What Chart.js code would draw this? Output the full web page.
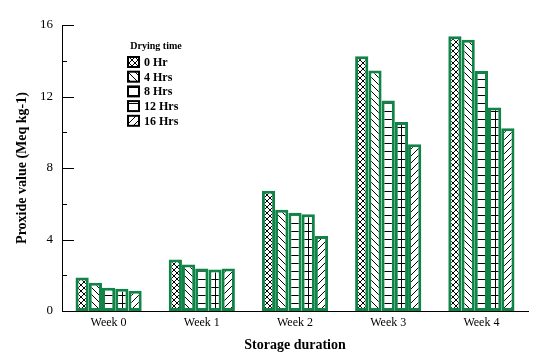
<!DOCTYPE html>
<html>
<head>
<meta charset="utf-8">
<script src="https://cdn.jsdelivr.net/npm/chart.js@4/dist/chart.umd.min.js"></script>
<style>
  body { margin: 0; background: #fff; }
  #wrap { width: 536px; height: 361px; }
</style>
</head>
<body>
<div id="wrap"><canvas id="chart" width="536" height="361"></canvas></div>
<script>
// chart data
const weeks = ['Week 0', 'Week 1', 'Week 2', 'Week 3', 'Week 4'];
const dryingTimes = ['0 Hr', '4 Hrs', '8 Hrs', '12 Hrs', '16 Hrs'];
const hr0 = [1.87, 2.88, 6.73, 14.25, 15.37];
const hr4 = [1.58, 2.6, 5.67, 13.45, 15.18];
const hr8 = [1.3, 2.38, 5.5, 11.78, 13.43];
const hr12 = [1.24, 2.32, 5.41, 10.57, 11.39];
const hr16 = [1.13, 2.38, 4.2, 9.33, 10.22];
const yTicks = [0, 4, 8, 12, 16];
const yMinor = [2, 6, 10, 14];

const SERIF = '"Liberation Serif", "Times New Roman", serif';
const GREEN = '#0f8446';

// hatch patterns
function makePattern(size, draw) {
  const c = document.createElement('canvas');
  c.width = size; c.height = size;
  const g = c.getContext('2d');
  g.fillStyle = '#fff';
  g.fillRect(0, 0, size, size);
  g.strokeStyle = '#000';
  g.fillStyle = '#000';
  g.lineWidth = 1;
  draw(g, size);
  return g.createPattern(c, 'repeat');
}

const patCross = makePattern(6, (g, s) => {
  g.beginPath();
  g.moveTo(0, 0); g.lineTo(s, s);
  g.moveTo(s, 0); g.lineTo(0, s);
  g.stroke();
  g.fillRect(s / 2 - 1, s / 2 - 1, 2, 2);
});
const patBack = makePattern(7, (g, s) => {
  g.beginPath();
  g.moveTo(-1, -1); g.lineTo(s + 1, s + 1);
  g.moveTo(-1, s - 1); g.lineTo(1, s + 1);
  g.moveTo(s - 1, -1); g.lineTo(s + 1, 1);
  g.stroke();
});
const patHoriz = makePattern(8, (g, s) => {
  g.fillRect(0, s - 1, s, 1);
});
const patFwd = makePattern(7, (g, s) => {
  g.beginPath();
  g.moveTo(-1, s + 1); g.lineTo(s + 1, -1);
  g.moveTo(-1, 1); g.lineTo(1, -1);
  g.moveTo(s - 1, s + 1); g.lineTo(s + 1, s - 1);
  g.stroke();
});

const fills = [patCross, patBack, patHoriz, patHoriz, patFwd];
const seriesValues = [hr0, hr4, hr8, hr12, hr16];

const datasets = dryingTimes.map((name, i) => ({
  label: name,
  data: seriesValues[i],
  backgroundColor: fills[i],
  borderColor: GREEN,
  borderWidth: 3,
  borderSkipped: false,
}));

// vertical centre line for the 12 Hrs bars + inward y ticks + legend
const extras = {
  id: 'extras',
  afterDatasetsDraw(chart) {
    const ctx = chart.ctx;
    ctx.save();
    ctx.strokeStyle = '#000';
    ctx.lineWidth = 1;
    chart.getDatasetMeta(3).data.forEach(bar => {
      const x = Math.round(bar.x) + 0.5;
      ctx.beginPath();
      ctx.moveTo(x, bar.y + 3);
      ctx.lineTo(x, bar.base - 3);
      ctx.stroke();
    });

    // inward ticks on the y axis
    const y = chart.scales.y;
    const left = chart.chartArea.left;
    ctx.lineWidth = 1;
    yTicks.concat(yMinor).forEach(v => {
      const py = Math.round(y.getPixelForValue(v)) + 0.5;
      const len = yTicks.includes(v) ? 12 : 5;
      ctx.beginPath();
      ctx.moveTo(left, py);
      ctx.lineTo(left + len, py);
      ctx.stroke();
    });

    // legend
    ctx.fillStyle = '#000';
    ctx.textBaseline = 'middle';
    ctx.textAlign = 'center';
    ctx.font = 'bold 10px ' + SERIF;
    ctx.fillText('Drying time', 156, 46);
    ctx.textAlign = 'left';
    ctx.font = 'bold 12px ' + SERIF;
    chart.data.datasets.forEach((ds, i) => {
      const cy = 62 + i * 14.7;
      ctx.fillStyle = ds.backgroundColor;
      ctx.fillRect(128, cy - 5, 11, 10);
      ctx.strokeStyle = '#000';
      ctx.lineWidth = 2;
      ctx.strokeRect(128, cy - 5, 11, 10);
      ctx.fillStyle = '#000';
      ctx.fillText(ds.label, 144, cy + 1);
    });
    ctx.restore();
  }
};

new Chart(document.getElementById('chart'), {
  type: 'bar',
  data: { labels: weeks, datasets },
  plugins: [extras],
  options: {
    responsive: false,
    animation: false,
    layout: { padding: { top: 25, right: 8, left: 0, bottom: 0 } },
    plugins: { legend: { display: false }, tooltip: { enabled: false } },
    datasets: { bar: { categoryPercentage: 0.71, barPercentage: 1.0 } },
    scales: {
      x: {
        grid: { display: false, drawTicks: false },
        border: { display: true, color: '#000', width: 1 },
        ticks: { color: '#000', padding: 5, font: { family: SERIF, size: 12 } },
        title: {
          display: true, text: 'Storage duration', color: '#000',
          font: { family: SERIF, size: 14, weight: 'bold' },
          padding: { top: 4, bottom: 7 }
        },
        afterFit(s) { s.height = 50; }
      },
      y: {
        min: 0, max: 16,
        afterBuildTicks(s) { s.ticks = yTicks.map(v => ({ value: v })); },
        grid: { display: false, drawTicks: false },
        border: { display: true, color: '#000', width: 1 },
        ticks: { color: '#000', padding: 9, font: { family: SERIF, size: 13 } },
        title: {
          display: true, text: 'Proxide value (Meq kg-1)', color: '#000',
          font: { family: SERIF, size: 14, weight: 'bold' },
          padding: { top: 14, bottom: 0 }
        },
        afterFit(s) { s.width = 62; }
      }
    }
  }
});
</script>
</body>
</html>
